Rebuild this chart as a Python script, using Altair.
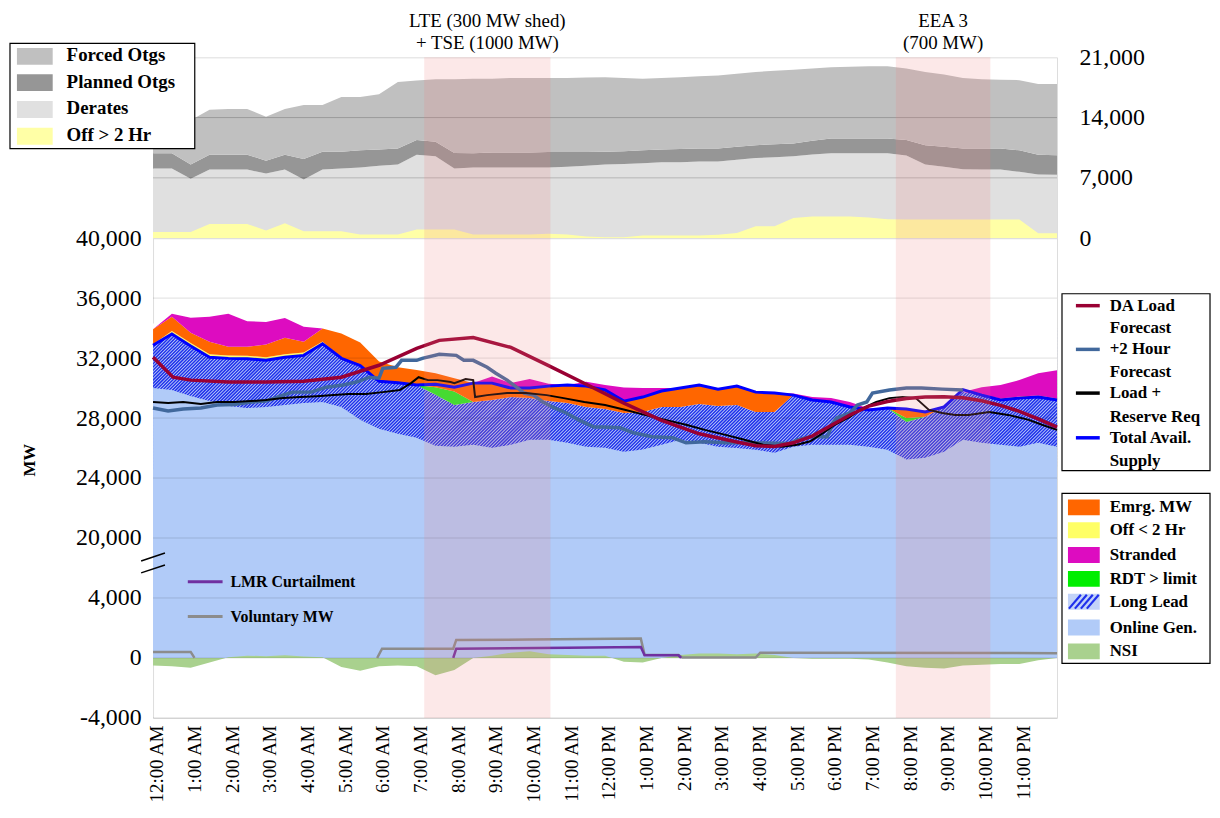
import altair as alt
import pandas as pd
import numpy as np

# ---------------- data (MW), half-hourly from 12:00 AM to 12:00 AM ----------------
hours = [i * 0.5 for i in range(49)]

# top panel: outages
derates = [8100, 8100, 6900, 7960, 7960, 7960, 7500, 7960, 6800, 7960,
           8080, 8200, 8400, 8540, 9690, 9500, 8100, 8200, 8200, 8200,
           8200, 8200, 8300, 8400, 8540, 8600, 8700, 8800, 8800, 8890,
           8890, 9100, 9300, 9400, 9500, 9700, 9850, 9850, 9850, 9850,
           9600, 8540, 8300, 8000, 7960, 7960, 7700, 7380, 7350]
planned = [1750, 1750, 1640, 1730, 1730, 1730, 1500, 1730, 2400, 2080,
           1960, 2000, 1900, 1880, 1710, 1700, 1800, 1650, 1750, 1750,
           1750, 1800, 1700, 1600, 1500, 1500, 1500, 1500, 1550, 1530,
           1530, 1500, 1500, 1500, 1500, 1600, 1720, 1720, 1720, 1720,
           1800, 2260, 2300, 2420, 2460, 2460, 2500, 2310, 2270]
forced = [3850, 3850, 5160, 5210, 5310, 5310, 5100, 5310, 6260, 5420,
          6350, 6200, 6400, 7700, 6900, 7260, 8560, 8650, 8550, 8650,
          8650, 8600, 8600, 8650, 8660, 8500, 8300, 8300, 8350, 8380,
          8480, 8500, 8500, 8550, 8550, 8400, 8280, 8330, 8380, 8390,
          8300, 8500, 8400, 8180, 8030, 7980, 8150, 8210, 8280]
off_gt2 = [700, 700, 700, 1650, 1650, 1650, 900, 1730, 800, 800,
           800, 420, 420, 420, 1000, 1000, 1000, 420, 420, 420,
           420, 500, 420, 200, 100, 100, 300, 300, 300, 300,
           400, 600, 1380, 1380, 2340, 2500, 2500, 2500, 2400, 2200,
           2150, 2150, 2150, 2150, 2150, 2150, 2150, 580, 580]

# main panel: supply stack
online_gen = [30000, 29870, 29470, 29130, 28800, 28670, 28740, 28870, 29000, 29070,
              28740, 27880, 27280, 26950, 26680, 26150, 26090, 26220, 26020, 26220,
              26550, 26550, 26350, 26090, 26020, 25760, 25900, 26220, 26550, 26350,
              26090, 26000, 25890, 25690, 26090, 26220, 26220, 26220, 26090, 25890,
              25230, 25360, 25760, 26550, 26350, 26220, 26090, 26350, 26090]
long_lead = [2850, 3730, 3330, 2920, 3180, 3280, 3110, 3180, 3180, 3880,
             3245, 3620, 3170, 3400, 3520, 3410, 2780, 2850, 3180, 3180,
             2780, 2580, 2650, 2650, 2580, 2580, 2510, 2520, 2190, 2590,
             2710, 2870, 2520, 2720, 3440, 2980, 2850, 2520, 2450, 2780,
             2510, 2720, 2980, 3180, 3180, 2980, 3240, 3050, 3110]
rdt_over = [0, 0, 0, 0, 0, 0, 0, 0, 0, 0,
            0, 0, 0, 0, 0, 500, 900, 0, 0, 0,
            0, 0, 0, 0, 0, 0, 0, 0, 0, 0,
            0, 0, 0, 0, 0, 0, 0, 0, 0, 0,
            260, 0, 0, 0, 0, 0, 0, 0, 0]
off_lt2 = [80, 200, 200, 200, 200, 200, 200, 200, 200, 150,
           0, 0, 0, 0, 0, 0, 0, 0, 0, 0,
           0, 0, 0, 0, 0, 0, 0, 0, 0, 0,
           0, 0, 0, 0, 0, 0, 0, 0, 0, 0,
           0, 0, 0, 0, 0, 0, 0, 0, 0]
emrg_mw = [1000, 950, 690, 840, 580, 610, 850, 1100, 710, 870,
           1650, 1540, 1325, 1040, 1000, 930, 890, 1260, 1130, 600,
           670, 1000, 1200, 1390, 1270, 790, 990, 1060, 1260, 1260,
           1130, 1260, 1320, 1260, 0, 0, 0, 0, 0, 0,
           600, 400, 0, 0, 0, 100, 100, 100, 100]
stranded = [0, 200, 1000, 1660, 2200, 1700, 1500, 1330, 1000, 0,
            0, 0, 0, 0, 0, 0, 0, 0, 440, 330,
            600, 150, 0, 290, 330, 900, 600, 200, 0, 0,
            0, 0, 0, 0, 100, 200, 260, 330, 100, 0,
            0, 0, 0, 0, 530, 900, 1100, 1490, 1890]
nsi = [-500, -550, -650, -300, 50, 150, 120, 180, 100, 50,
       -600, -850, -550, -500, -550, -1150, -800, 0, 150, 350,
       450, 250, 200, 150, 150, -250, -300, 0, 200, 300,
       300, 250, 300, 200, 0, -50, -50, -50, -100, -300,
       -550, -650, -700, -500, -450, -400, -400, -150, 0]
total_supply = [32850, 33600, 32800, 32050, 31980, 31950, 31850, 32050, 32180, 32950,
                31985, 31500, 30450, 30350, 30200, 30250, 30060, 30330, 30330, 30000,
                30000, 30130, 30200, 30130, 29870, 29130, 29400, 29800, 30000, 30200,
                29930, 30130, 29730, 29670, 29530, 29200, 29070, 28740, 28540, 28670,
                28600, 28410, 28740, 29900, 29530, 29200, 29330, 29400, 29200]

# forecasts / requirements
da_t = [0, 0.53, 1, 2, 3, 4, 5, 6, 7, 7.6, 8.5, 9.5, 10.5, 11.5, 12.5, 13.5, 14.5, 15.5,
        16, 16.5, 17, 17.5, 18, 18.5, 19, 19.5, 20, 20.5, 21, 21.5, 22, 22.5, 23, 23.5, 24]
da_mw = [32050, 30725, 30530, 30400, 30400, 30460, 30725, 31520, 32650, 33180, 33375, 32710,
         31500, 30250, 29000, 27850, 26950, 26400, 26150, 26100, 26350, 26800, 27500, 28200,
         28800, 29100, 29300, 29400, 29420, 29350, 29150, 28850, 28450, 27950, 27400]
fc2_t = [0, 0.4, 0.8, 1.27, 1.7, 2.15, 2.6, 3.0, 3.45, 3.7, 4.2, 4.6, 5.05, 5.4, 5.75,
         6.0, 6.1, 6.45, 6.6, 7.0, 7.15, 7.6, 8.05, 8.25, 8.5, 8.87, 9.1, 9.4, 9.65, 9.85,
         10.1, 10.35, 10.6, 10.97, 11.3, 11.7, 11.95, 12.4, 12.75, 13.25, 13.8, 14.15, 14.65,
         15.2, 15.9, 16.9, 17.1, 17.45, 17.9, 18.05, 18.15, 18.5, 18.7, 18.95, 19.1, 19.55,
         20.0, 20.4, 20.95, 21.5]
fc2_mw = [28670, 28470, 28600, 28670, 28870, 28900, 29070, 29130, 29530, 29730, 29730, 30060,
          30200, 30400, 30725, 30660, 31320, 31390, 31850, 31850, 31985, 32250, 32180, 31850,
          31850, 31390, 30990, 30530, 30060, 29670, 29530, 29070, 28740, 28340, 27880, 27410,
          27410, 27350, 27020, 26750, 26680, 26350, 26420, 26350, 26350, 26300, 26550, 26750,
          26750, 27680, 28010, 28340, 28870, 29070, 29670, 29870, 30000, 30000, 29930, 29870]
lr_t = [0, 0.4, 0.8, 1.27, 1.7, 2.15, 2.6, 3.0, 3.45, 3.9, 4.35, 4.8, 5.2, 5.65, 6.1, 6.55,
        6.85, 7.05, 7.3, 7.55, 7.9, 8.0, 8.3, 8.5, 8.55, 8.87, 9.4, 9.9, 10.45, 10.9, 11.45,
        12.0, 12.55, 13.05, 13.6, 14.15, 14.65, 15.2, 15.7, 16.2, 16.7, 17.1, 17.45, 17.8,
        18.1, 18.5, 18.85, 19.2, 19.55, 19.9, 20.25, 20.6, 20.95, 21.3, 21.65, 22.2, 22.7,
        23.25, 23.6, 24.0]
lr_mw = [29070, 29000, 29070, 28940, 29070, 29070, 29130, 29200, 29330, 29400, 29460, 29530,
         29600, 29600, 29730, 29870, 30330, 30725, 30530, 30530, 30400, 30330, 30600, 30530,
         29400, 29530, 29670, 29670, 29530, 29330, 29070, 28870, 28540, 28210, 27880, 27550,
         27210, 26880, 26550, 26220, 26090, 26220, 26450, 27020, 27550, 28080, 28670, 29070,
         29330, 29400, 29330, 28540, 28340, 28210, 28210, 28400, 28210, 27880, 27550, 27210]
lmr_t = [7.97, 8.05, 11.0, 12.95, 13.05, 13.95, 14.02]
lmr_mw = [0, 620, 680, 730, 180, 180, 0]
vol_a_t = [0, 1.0, 1.1]
vol_a_mw = [400, 400, 0]
vol_b_t = [5.95, 6.08, 7.97, 8.05, 10.0, 12.95, 13.05, 13.95, 14.05, 15.1, 16.0, 16.12, 24.0]
vol_b_mw = [0, 620, 620, 1200, 1230, 1290, 220, 200, 30, 30, 30, 350, 320]

# event windows
event_start = [7.2, 19.72]
event_end = [10.55, 22.23]
event_line1 = ["LTE (300 MW shed)", "EEA 3"]
event_line2 = ["+ TSE (1000 MW)", "(700 MW)"]

# ---------------- layout / style ----------------
SERIF = "Liberation Serif"
W, H_TOP, H_MAIN = 910, 182, 483
SHIFT = 12000  # axis break: values above the break are drawn 12,000 MW lower

XS = alt.Scale(domain=[0, 24], nice=False, zero=False)
YS_MAIN = alt.Scale(domain=[-4000, 28000], nice=False, zero=False)
YS_TOP = alt.Scale(domain=[0, 21000], nice=False)

hour_expr = ("(datum.value % 12 == 0 ? 12 : datum.value % 12) + ':00 ' + "
             "(datum.value < 12 ? 'AM' : 'PM')")
xax = alt.Axis(values=list(range(24)), labelExpr=hour_expr, labelAngle=-90, labelFont=SERIF,
               labelFontSize=19, labelColor="black", labelPadding=7, labelOffset=4,
               ticks=False, domain=False, grid=False, title=None, labelOverlap=False,
               labelBound=False, labelFlush=False)
yax = alt.Axis(values=[-4000, 0, 4000, 8000, 12000, 16000, 20000, 24000, 28000],
               labelExpr="(datum.value < 0 ? '-' : '') + format(abs(datum.value) + "
                         "(datum.value >= 8000 ? 12000 : 0), ',')",
               labelFont=SERIF, labelFontSize=24, labelColor="black", labelPadding=12,
               ticks=False, domain=False, grid=False, title="MW", titleFont=SERIF,
               titleFontSize=17, titleFontWeight="bold", titleColor="black",
               titleX=-124, titleY=223, titleAngle=-90, titleBaseline="middle",
               labelFlush=False, labelOverlap=False)
yax_top = alt.Axis(orient="right", values=[0, 7000, 14000, 21000],
                   labelExpr="format(datum.value, ',')",
                   labelFont=SERIF, labelFontSize=24, labelColor="black", labelPadding=22,
                   ticks=False, domain=False, grid=False, title=None, labelFlush=False,
                   labelOverlap=False)

X_M = alt.X("t:Q", scale=XS, axis=xax)
Y_M = alt.Y("hi:Q", scale=YS_MAIN, axis=yax)
X_T = alt.X("t:Q", scale=XS, axis=None)
Y_T = alt.Y("hi:Q", scale=YS_TOP, axis=yax_top)
Y2 = alt.Y2("lo:Q")

ONE = pd.DataFrame({"k": [0]})


def px_rect(x0, y0, x1, y1, fill, stroke=None, sw=0.0):
    kw = dict(fill=fill)
    if stroke:
        kw.update(stroke=stroke, strokeWidth=sw)
    return alt.Chart(ONE).mark_rect(**kw).encode(
        x=alt.value(x0), x2=alt.value(x1), y=alt.value(y0), y2=alt.value(y1))


def px_line(x0, y0, x1, y1, color, sw):
    return alt.Chart(ONE).mark_rule(color=color, strokeWidth=sw).encode(
        x=alt.value(x0), x2=alt.value(x1), y=alt.value(y0), y2=alt.value(y1))


def px_text(x, y, s, size, bold=True):
    return alt.Chart(ONE).mark_text(text=s, font=SERIF, fontSize=size,
                                    fontWeight="bold" if bold else "normal",
                                    align="left", baseline="middle", color="black").encode(
        x=alt.value(x), y=alt.value(y))


def band_df(lo, hi):
    return pd.DataFrame({"t": hours, "lo": np.asarray(lo, float), "hi": np.asarray(hi, float)})


def line_df(ts, vs, shift):
    return pd.DataFrame({"t": ts, "hi": np.asarray(vs, float) - shift})


events = pd.DataFrame({"x0": event_start, "x1": event_end,
                       "mid": [(a + b) / 2 for a, b in zip(event_start, event_end)],
                       "l1": event_line1, "l2": event_line2})

# ---------------- top panel ----------------
d_top = np.asarray(derates, float)
p_top = d_top + np.asarray(planned, float)
f_top = p_top + np.asarray(forced, float)
zeros = np.zeros(len(hours))

top_layers = [
    alt.Chart(band_df(zeros, d_top)).mark_area(color="#e0e0e0").encode(x=X_T, y=Y_T, y2=Y2),
    alt.Chart(band_df(d_top, p_top)).mark_area(color="#969696").encode(x=X_T, y=Y_T, y2=Y2),
    alt.Chart(band_df(p_top, f_top)).mark_area(color="#c0c0c0").encode(x=X_T, y=Y_T, y2=Y2),
    alt.Chart(band_df(zeros, off_gt2)).mark_area(color="#ffffa6").encode(x=X_T, y=Y_T, y2=Y2),
    alt.Chart(pd.DataFrame({"hi": [7000, 14000]})).mark_rule(color="black", opacity=0.2,
                                                             strokeWidth=1).encode(y=Y_T),
    alt.Chart(events).mark_rect(color="#f08080", opacity=0.18).encode(
        x=alt.X("x0:Q", scale=XS, axis=None), x2="x1:Q", y=alt.value(0), y2=alt.value(H_TOP)),
    alt.Chart(events).mark_text(font=SERIF, fontSize=19, color="black", baseline="middle").encode(
        x=alt.X("mid:Q", scale=XS, axis=None), y=alt.value(-37), text="l1:N"),
    alt.Chart(events).mark_text(font=SERIF, fontSize=19, color="black", baseline="middle").encode(
        x=alt.X("mid:Q", scale=XS, axis=None), y=alt.value(-14), text="l2:N"),
]
# top-left outage legend
top_layers.append(px_rect(-144, -14, 42, 92, "white", "black", 1.2))
for yc, col, lab in [(-1, "#c0c0c0", "Forced Otgs"), (25.5, "#969696", "Planned Otgs"),
                     (52.5, "#e0e0e0", "Derates"), (79.5, "#ffffa6", "Off > 2 Hr")]:
    top_layers.append(px_rect(-137, yc - 8.5, -101, yc + 8.5, col))
    top_layers.append(px_text(-87, yc - 1, lab, 19))

top = alt.layer(*top_layers).properties(width=W, height=H_TOP)

# ---------------- main panel ----------------
on = np.asarray(online_gen, float)
ht = on + np.asarray(long_lead, float)
b2 = ht + np.asarray(rdt_over, float)
b3 = b2 + np.asarray(off_lt2, float)
b4 = b3 + np.asarray(emrg_mw, float)
b5 = b4 + np.asarray(stranded, float)

PX_PER_H = W / 24
MW_PER_PX = 32000 / H_MAIN
HATCH_LO, HATCH_HI = 12600, 22000
span_h = (HATCH_HI - HATCH_LO) / MW_PER_PX / PX_PER_H
starts = np.arange(-span_h - 0.1, 24.0, 3.3 / PX_PER_H)
stripes = pd.DataFrame({"x0": starts, "x1": starts + span_h, "y0": HATCH_LO, "y1": HATCH_HI})

main_layers = [
    # long-lead background, hatching, cover above
    alt.Chart(band_df(np.full(len(hours), HATCH_LO), ht - SHIFT)).mark_area(color="#c2d3f8").encode(
        x=X_M, y=Y_M, y2=Y2),
    alt.Chart(stripes).mark_rule(color="#1f30ec", strokeWidth=1.5, clip=True).encode(
        x=alt.X("x0:Q", scale=XS, axis=xax), x2="x1:Q",
        y=alt.Y("y0:Q", scale=YS_MAIN, axis=yax), y2="y1:Q"),
    alt.Chart(band_df(ht - SHIFT, np.full(len(hours), HATCH_HI + 300))).mark_area(color="white").encode(
        x=X_M, y=Y_M, y2=Y2),
    # online generation
    alt.Chart(band_df(zeros, on - SHIFT)).mark_area(color="#b1cbf8").encode(x=X_M, y=Y_M, y2=Y2),
    # stacked additions
    alt.Chart(band_df(ht - SHIFT, b2 - SHIFT)).mark_area(color="#22ee22").encode(x=X_M, y=Y_M, y2=Y2),
    alt.Chart(band_df(b2 - SHIFT, b3 - SHIFT)).mark_area(color="#ffff66").encode(x=X_M, y=Y_M, y2=Y2),
    alt.Chart(band_df(b3 - SHIFT, b4 - SHIFT)).mark_area(color="#ff6600").encode(x=X_M, y=Y_M, y2=Y2),
    alt.Chart(band_df(b4 - SHIFT, b5 - SHIFT)).mark_area(color="#dd0cc0").encode(x=X_M, y=Y_M, y2=Y2),
    # NSI
    alt.Chart(band_df(zeros, nsi)).mark_area(color="#a9d18e").encode(x=X_M, y=Y_M, y2=Y2),
    # grid
    alt.Chart(pd.DataFrame({"hi": [-4000, 0, 4000, 8000, 12000, 16000, 20000, 24000]})).mark_rule(
        color="black", opacity=0.13, strokeWidth=1).encode(y=Y_M),
    # lines
    alt.Chart(line_df(hours, total_supply, SHIFT)).mark_line(color="#0000ff", strokeWidth=3).encode(x=X_M, y=Y_M),
    alt.Chart(line_df(fc2_t, fc2_mw, SHIFT)).mark_line(color="#41689c", strokeWidth=3.5).encode(x=X_M, y=Y_M),
    alt.Chart(line_df(lr_t, lr_mw, SHIFT)).mark_line(color="black", strokeWidth=2).encode(x=X_M, y=Y_M),
    alt.Chart(line_df(da_t, da_mw, SHIFT)).mark_line(color="#990033", strokeWidth=3.5).encode(x=X_M, y=Y_M),
    alt.Chart(line_df(vol_a_t, vol_a_mw, 0)).mark_line(color="#8c8c8c", strokeWidth=2.5).encode(x=X_M, y=Y_M),
    alt.Chart(line_df(vol_b_t, vol_b_mw, 0)).mark_line(color="#8c8c8c", strokeWidth=2.5).encode(x=X_M, y=Y_M),
    alt.Chart(line_df(lmr_t, lmr_mw, 0)).mark_line(color="#7030a0", strokeWidth=2.5).encode(x=X_M, y=Y_M),
    # event windows
    alt.Chart(events).mark_rect(color="#f08080", opacity=0.18).encode(
        x=alt.X("x0:Q", scale=XS, axis=xax), x2="x1:Q", y=alt.value(0), y2=alt.value(H_MAIN)),
]

# axis break marks
main_layers.append(px_line(-12, 325, 12, 317, "black", 1.5))
main_layers.append(px_line(-12, 337, 12, 329, "black", 1.5))

# inline legend
main_layers.append(px_line(35, 346, 70, 346, "#7030a0", 3))
main_layers.append(px_text(78, 346, "LMR Curtailment", 16))
main_layers.append(px_line(35, 381, 70, 381, "#8c8c8c", 3))
main_layers.append(px_text(78, 381, "Voluntary MW", 16))

# right legend 1 (lines)
main_layers.append(px_rect(915, 56, 1064, 234, "white", "black", 1.2))
for yc, col in [(68, "#990033"), (112, "#41689c"), (156, "black"), (201, "#0000ff")]:
    main_layers.append(px_line(929, yc, 953, yc, col, 3.5))
for yc, lab in [(68, "DA Load"), (91, "Forecast"), (112, "+2 Hour"), (135, "Forecast"),
                (156, "Load +"), (180, "Reserve Req"), (201, "Total Avail."), (224, "Supply")]:
    main_layers.append(px_text(963, yc, lab, 17))

# right legend 2 (areas)
main_layers.append(px_rect(915, 257, 1064, 428, "white", "black", 1.2))
for yc, col, lab in [(271, "#ff6600", "Emrg. MW"), (294, "#ffff66", "Off < 2 Hr"),
                     (319, "#dd0cc0", "Stranded"), (343, "#00ee00", "RDT > limit"),
                     (366, None, "Long Lead"), (392, "#b1cbf8", "Online Gen."),
                     (416, "#a9d18e", "NSI")]:
    if col is None:
        main_layers.append(px_rect(921, yc - 8, 953, yc + 8, "#c2d3f8"))
        for x0 in [922, 928, 934, 940]:
            main_layers.append(px_line(x0, yc + 7, x0 + 12, yc - 7, "#1f30ec", 2.2))
    else:
        main_layers.append(px_rect(921, yc - 8, 953, yc + 8, col))
    main_layers.append(px_text(963, yc, lab, 17))

main = alt.layer(*main_layers).properties(width=W, height=H_MAIN)

chart = alt.vconcat(top, main, spacing=0, bounds="flush").properties(
    padding=0, autosize=alt.AutoSizeParams(type="pad")
).configure_view(stroke="black", strokeWidth=1.5).configure(background="white")

chart.save("out.html", embed_options={"renderer": "svg", "actions": False})
